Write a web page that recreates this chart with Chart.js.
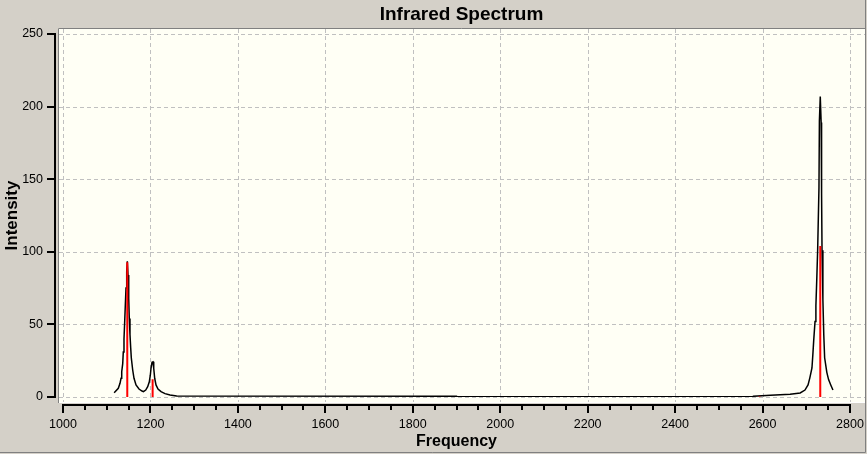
<!DOCTYPE html>
<html>
<head>
<meta charset="utf-8">
<title>Infrared Spectrum</title>
<script src="https://cdn.jsdelivr.net/npm/chart.js@4.4.1/dist/chart.umd.min.js"></script>
<style>
  html, body { margin: 0; padding: 0; background: #d4d0c8; }
  canvas { display: block; }
</style>
</head>
<body>
<canvas id="irChart" width="867" height="454"></canvas>
<script>
// broadened spectrum (black curve)
const frequency = [
  1117, 1126.5, 1130.4, 1132.7, 1134.3, 1136.6, 1137.9, 1139.5, 1141.1, 1142.5,
  1144.1, 1145.7, 1147.1, 1148.7, 1150.3, 1151.6, 1153.2, 1154.8, 1156.2, 1159.4,
  1162.4, 1167, 1173.8, 1180.7, 1184, 1189.2, 1193.7, 1197.4, 1199.7, 1201.3,
  1203.6, 1205.9, 1207.5, 1209.7, 1212.7, 1217.3, 1224.2, 1233.3, 1244.8, 1260,
  1900, 1902, 2577, 2579, 2618, 2663, 2686, 2697, 2704, 2708,
  2713, 2715, 2717, 2720, 2722, 2724, 2726, 2729, 2730, 2732,
  2734, 2735, 2736, 2738, 2740, 2742, 2747, 2751, 2756, 2761
];
const intensity = [
  3.0, 6.0, 9.4, 12.9, 17.4, 23, 31, 40, 52, 63,
  75, 86, 93.5, 84, 68, 54, 43, 34, 27, 18.6,
  12.9, 8.3, 5.5, 4.1, 3.7, 4.8, 7.1, 10.5, 15, 19.8,
  23.9, 24.2, 19.8, 12.9, 8.3, 5.5, 3.7, 2.3, 1.4, 0.7,
  0.6, 0.1, 0.1, 0.5, 1.2, 1.9, 2.8, 4.8, 8.3, 13,
  20, 29, 39, 52, 63, 81, 101, 144, 190, 207,
  189, 140, 101, 67, 43, 27, 17, 12, 8.3, 4.8
];

// stick spectrum (red lines)
const stickFreq = [1147, 1205, 2593, 2732];
const stickHeight = [92.8, 12.3, 0.4, 104];

const xTicks = [1000, 1200, 1400, 1600, 1800, 2000, 2200, 2400, 2600, 2800];
const yTicks = [0, 50, 100, 150, 200, 250];

const curve = frequency.map((f, i) => ({ x: f, y: intensity[i] }));
const sticks = stickFreq.flatMap((f, i) => [
  { x: f, y: 0 }, { x: f, y: stickHeight[i] }, { x: f, y: null }
]);

// sunken plot frame, dashed grid, offset axes and title
const framePlugin = {
  id: 'frame',
  beforeDraw(chart) {
    const { ctx, chartArea: a, scales: { x, y } } = chart;
    const L = a.left - 5, T = a.top - 6, R = a.right + 15, B = a.bottom + 6;
    ctx.save();
    ctx.fillStyle = '#d4d0c8';
    ctx.fillRect(0, 0, chart.width, chart.height);
    ctx.fillStyle = '#fffff5';
    ctx.fillRect(L, T, R - L, B - T);

    ctx.strokeStyle = '#c0c0c0';
    ctx.lineWidth = 1;
    ctx.setLineDash([4, 3]);
    ctx.beginPath();
    x.ticks.forEach(t => {
      const px = Math.round(x.getPixelForValue(t.value)) + 0.5;
      ctx.moveTo(px, T + 1); ctx.lineTo(px, B);
    });
    y.ticks.forEach(t => {
      const py = Math.round(y.getPixelForValue(t.value)) + 0.5;
      ctx.moveTo(L + 1, py); ctx.lineTo(R, py);
    });
    ctx.stroke();
    ctx.setLineDash([]);

    ctx.strokeStyle = '#808080';
    ctx.beginPath();
    ctx.moveTo(L + 0.5, B); ctx.lineTo(L + 0.5, T + 0.5); ctx.lineTo(R, T + 0.5);
    ctx.stroke();
    ctx.strokeStyle = '#ffffff';
    ctx.beginPath();
    ctx.moveTo(L + 1, B - 0.5); ctx.lineTo(R, B - 0.5);
    ctx.stroke();

    // outer panel edge
    ctx.strokeStyle = '#808080';
    ctx.beginPath();
    ctx.moveTo(0, chart.height - 1.5); ctx.lineTo(chart.width - 1.5, chart.height - 1.5);
    ctx.lineTo(chart.width - 1.5, 0);
    ctx.stroke();
    ctx.restore();
  },
  afterDraw(chart) {
    const { ctx, chartArea: a, scales: { x, y } } = chart;
    const L = a.left - 5, R = a.right + 15;
    const axisX = a.left - 9, axisY = a.bottom + 8;
    ctx.save();
    ctx.fillStyle = '#000';
    // y axis
    const yTop = Math.round(y.getPixelForValue(y.max));
    const yBot = Math.round(y.getPixelForValue(y.min));
    ctx.fillRect(axisX, yTop - 1, 2, yBot - yTop + 2);
    y.ticks.forEach(t => {
      const py = Math.round(y.getPixelForValue(t.value));
      ctx.fillRect(axisX - 7, py - 1, 8, 2);
    });
    // x axis
    const xL = Math.round(x.getPixelForValue(x.min));
    const xR = Math.round(x.getPixelForValue(x.max));
    ctx.fillRect(xL - 1, axisY - 1, xR - xL + 2, 2);
    for (let v = x.min; v <= x.max; v += 50) {
      const px = Math.round(x.getPixelForValue(v));
      const major = v % 200 === 0;
      ctx.fillRect(px - 1, axisY - 1, 2, major ? 9 : 6);
    }
    // title
    ctx.font = 'bold 19px "Liberation Sans", Arial, sans-serif';
    ctx.textAlign = 'center';
    ctx.textBaseline = 'alphabetic';
    ctx.fillText('Infrared Spectrum', (L + R) / 2, 20);
    ctx.restore();
  }
};

Chart.defaults.font.family = '"Liberation Sans", Arial, sans-serif';
Chart.defaults.font.size = 12;
Chart.defaults.color = '#000';

new Chart(document.getElementById('irChart'), {
  type: 'line',
  data: {
    datasets: [
      {
        label: 'Sticks',
        data: sticks,
        borderColor: '#ff0000',
        borderWidth: 2,
        pointRadius: 0,
        spanGaps: false,
        order: 0
      },
      {
        label: 'Spectrum',
        data: curve,
        borderColor: '#000000',
        borderWidth: 1.5,
        pointRadius: 0,
        tension: 0,
        order: 1
      }
    ]
  },
  options: {
    responsive: false,
    animation: false,
    events: [],
    layout: { padding: { left: 0, top: 34, right: 17, bottom: 0 } },
    plugins: { legend: { display: false }, tooltip: { enabled: false }, title: { display: false } },
    scales: {
      x: {
        type: 'linear',
        min: 1000,
        max: 2800,
        afterBuildTicks: s => { s.ticks = xTicks.map(v => ({ value: v })); },
        afterFit: s => { s.height = 57; s.paddingLeft = 0; s.paddingRight = 0; },
        grid: { display: false, drawTicks: false },
        border: { display: false },
        ticks: { padding: 20, maxRotation: 0, autoSkip: false, font: { size: 12.5 }, callback: v => String(v) },
        title: {
          display: true,
          text: 'Frequency',
          font: { size: 16, weight: 'bold' },
          padding: { top: 0, bottom: 3 }
        }
      },
      y: {
        min: 0,
        max: 250,
        afterBuildTicks: s => { s.ticks = yTicks.map(v => ({ value: v })); },
        afterFit: s => { s.width = 63; s.paddingTop = 0; s.paddingBottom = 0; },
        grid: { display: false, drawTicks: false },
        border: { display: false },
        ticks: { padding: 20, font: { size: 12.5 }, callback: v => String(v) },
        title: {
          display: true,
          text: 'Intensity',
          font: { size: 17, weight: 'bold' },
          padding: { top: 2, bottom: 0 }
        }
      }
    }
  },
  plugins: [framePlugin]
});
</script>
</body>
</html>
